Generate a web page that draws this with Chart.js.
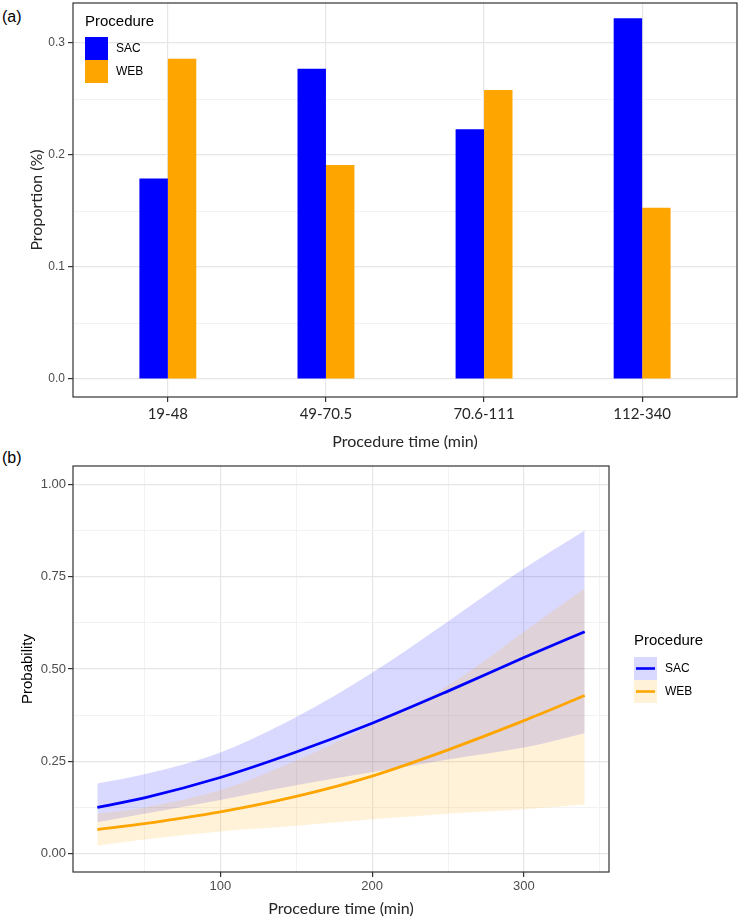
<!DOCTYPE html>
<html>
<head>
<meta charset="utf-8">
<script src="https://cdn.jsdelivr.net/npm/chart.js@4.4.1/dist/chart.umd.min.js"></script>
<style>
  body { margin: 0; background: #fff; width: 750px; height: 922px; position: relative; overflow: hidden; }
  canvas { position: absolute; left: 0; }
  #chartA { top: 0; }
  #chartB { top: 451px; }
  .tag { position: absolute; left: 2px; font: 16px "Liberation Sans", Arial, sans-serif; color: #000; }
</style>
</head>
<body>
<div class="tag" style="top:8px">(a)</div>
<div class="tag" style="top:449px">(b)</div>
<canvas id="chartA" width="750" height="451"></canvas>
<canvas id="chartB" width="750" height="471"></canvas>
<script>
// ---- panel (a): proportion by procedure-time group
const timeGroups = ["19-48", "49-70.5", "70.6-111", "112-340"];
const sacProportion = [0.179, 0.277, 0.223, 0.322];
const webProportion = [0.286, 0.191, 0.258, 0.153];
const propTicks = [0, 0.1, 0.2, 0.3];

// ---- panel (b): predicted probability with 95% band
const procTime = [19, 50, 100, 150, 200, 250, 300, 340];
const sacFit  = [0.125, 0.151, 0.206, 0.275, 0.353, 0.440, 0.531, 0.601];
const sacLow  = [0.085, 0.108, 0.145, 0.185, 0.220, 0.255, 0.287, 0.326];
const sacHigh = [0.190, 0.215, 0.274, 0.370, 0.490, 0.629, 0.772, 0.875];
const webFit  = [0.065, 0.081, 0.113, 0.155, 0.210, 0.281, 0.360, 0.428];
const webLow  = [0.021, 0.038, 0.060, 0.075, 0.093, 0.108, 0.120, 0.133];
const webHigh = [0.108, 0.125, 0.172, 0.252, 0.348, 0.455, 0.601, 0.719];
const timeTicks = [100, 200, 300];
const probTicks = [0, 0.25, 0.5, 0.75, 1];

const procedures = ["SAC", "WEB"];
const procColors = ["#0000FF", "#FFA500"];
const bandColors = ["rgba(0,0,255,0.15)", "rgba(255,165,0,0.15)"];

Chart.defaults.font.family = "'Liberation Sans', Arial, sans-serif";
Chart.defaults.color = "#4d4d4d";

const GRID_MAJOR = "#e6e6e6";
const GRID_MINOR = "#f2f2f2";
const INK = "#262626";

function isIn(list, v) {
    return list.some((t) => Math.abs(t - v) < 1e-9);
}

function withMinors(list, step, lo, hi) {
    let out = [];
    list.forEach((t) => out.push(t));
    for (let v = list[0] - step / 2; v <= hi; v += step) {
        if (v >= lo) out.push(v);
    }
    return out.sort((a, b) => a - b).map((v) => ({ value: v }));
}

function gridFor(list) {
    return {
        offset: false,
        drawTicks: true,
        tickLength: 5,
        color: (c) => (isIn(list, c.tick.value) ? GRID_MAJOR : GRID_MINOR),
        lineWidth: (c) => (isIn(list, c.tick.value) ? 1.2 : 1),
        tickColor: (c) => (isIn(list, c.tick.value) ? "#333" : "rgba(0,0,0,0)"),
        tickWidth: 1.2,
    };
}

// panel border, like theme_bw
const panelBox = {
    id: "panelBox",
    afterDraw(chart) {
        const a = chart.chartArea;
        const ctx = chart.ctx;
        ctx.save();
        ctx.strokeStyle = "#333";
        ctx.lineWidth = 1.2;
        ctx.strokeRect(a.left, a.top, a.right - a.left, a.bottom - a.top);
        ctx.restore();
    }
};

// ggplot style legend: title + stacked square keys
const ggLegend = {
    id: "ggLegend",
    afterDraw(chart, args, opts) {
        if (!opts.items) return;
        const ctx = chart.ctx;
        const k = opts.key;
        ctx.save();
        ctx.textBaseline = "middle";
        ctx.textAlign = "left";
        ctx.fillStyle = "#000";
        ctx.font = "15px 'Liberation Sans', Arial, sans-serif";
        ctx.fillText(opts.title, opts.x, opts.titleY);
        opts.items.forEach((it, i) => {
            const top = opts.top + i * k;
            ctx.fillStyle = "#fff";
            ctx.fillRect(opts.x, top, k, k);
            ctx.fillStyle = it.fill;
            ctx.fillRect(opts.x, top, k, k);
            if (it.line) {
                ctx.strokeStyle = it.line;
                ctx.lineWidth = 2.6;
                ctx.beginPath();
                ctx.moveTo(opts.x + 2, top + k / 2);
                ctx.lineTo(opts.x + k - 2, top + k / 2);
                ctx.stroke();
            }
            ctx.fillStyle = "#000";
            ctx.font = "12px 'Liberation Sans', Arial, sans-serif";
            ctx.fillText(it.text, opts.x + k + 8, top + k / 2);
        });
        ctx.restore();
    }
};

// ---------- chart (a)
new Chart(document.getElementById("chartA"), {
    type: "bar",
    data: {
        datasets: [sacProportion, webProportion].map((vals, k) => ({
            label: procedures[k],
            data: vals.map((v, i) => ({ x: i + 1, y: v })),
            backgroundColor: procColors[k],
            borderWidth: 0,
            categoryPercentage: 0.36,
            barPercentage: 1,
        })),
    },
    options: {
        responsive: false,
        animation: false,
        events: [],
        layout: { padding: { left: 0, right: 13, top: 3, bottom: 0 } },
        plugins: {
            legend: { display: false },
            tooltip: { enabled: false },
            ggLegend: {
                title: "Procedure",
                x: 85,
                titleY: 22,
                top: 37,
                key: 23,
                items: procedures.map((p, k) => ({ text: p, fill: procColors[k] })),
            },
        },
        scales: {
            x: {
                type: "linear",
                min: 0.4,
                max: 4.6,
                offset: false,
                afterBuildTicks: (s) => {
                    s.ticks = timeGroups.map((g, i) => ({ value: i + 1 }));
                },
                afterFit: (s) => {
                    s.height = 54;
                    s.paddingLeft = 0;
                    s.paddingRight = 0;
                },
                grid: gridFor([1, 2, 3, 4]),
                border: { display: false },
                ticks: {
                    autoSkip: false,
                    maxRotation: 0,
                    padding: 3,
                    color: INK,
                    font: { family: "Lato", size: 15 },
                    callback: (v) => timeGroups[v - 1],
                },
                title: {
                    display: true,
                    text: "Procedure time (min)",
                    color: INK,
                    font: { family: "Lato", size: 16 },
                    padding: { top: 0, bottom: 0 },
                },
            },
            y: {
                type: "linear",
                min: -0.016,
                max: 0.3357,
                afterBuildTicks: (s) => {
                    s.ticks = withMinors(propTicks, 0.1, -0.016, 0.3357);
                },
                afterFit: (s) => {
                    s.width = 73;
                    s.paddingTop = 0;
                    s.paddingBottom = 0;
                },
                grid: gridFor(propTicks),
                border: { display: false },
                ticks: {
                    autoSkip: false,
                    padding: 3,
                    color: "#4d4d4d",
                    font: { size: 12 },
                    callback: (v) => (isIn(propTicks, v) ? v.toFixed(1) : ""),
                },
                title: {
                    display: true,
                    text: "Proportion (%)",
                    color: INK,
                    font: { family: "Lato", size: 16 },
                    padding: { top: 27, bottom: 0 },
                },
            },
        },
    },
    plugins: [panelBox, ggLegend],
});

// ---------- chart (b)
function series(xs, ys) {
    return xs.map((x, i) => ({ x: x, y: ys[i] }));
}

function band(ys, color, fill, order) {
    return {
        data: series(procTime, ys),
        borderColor: "rgba(0,0,0,0)",
        borderWidth: 0,
        backgroundColor: color,
        pointRadius: 0,
        fill: fill,
        cubicInterpolationMode: "monotone",
        order: order,
    };
}

function fitLine(ys, color, order) {
    return {
        data: series(procTime, ys),
        borderColor: color,
        borderWidth: 2.8,
        pointRadius: 0,
        fill: false,
        cubicInterpolationMode: "monotone",
        order: order,
    };
}

new Chart(document.getElementById("chartB"), {
    type: "line",
    data: {
        datasets: [
            band(sacHigh, bandColors[0], "+1", 4),
            band(sacLow, bandColors[0], false, 4),
            band(webHigh, bandColors[1], "+1", 3),
            band(webLow, bandColors[1], false, 3),
            fitLine(sacFit, procColors[0], 1),
            fitLine(webFit, procColors[1], 0),
        ],
    },
    options: {
        responsive: false,
        animation: false,
        events: [],
        layout: { padding: { left: 0, right: 141, top: 15, bottom: 0 } },
        plugins: {
            legend: { display: false },
            tooltip: { enabled: false },
            ggLegend: {
                title: "Procedure",
                x: 634,
                titleY: 190,
                top: 206,
                key: 23,
                items: procedures.map((p, k) => ({ text: p, fill: bandColors[k], line: procColors[k] })),
            },
        },
        scales: {
            x: {
                type: "linear",
                min: 3,
                max: 356,
                afterBuildTicks: (s) => {
                    s.ticks = withMinors(timeTicks, 100, 3, 356);
                },
                afterFit: (s) => {
                    s.height = 50;
                    s.paddingLeft = 0;
                    s.paddingRight = 0;
                },
                grid: gridFor(timeTicks),
                border: { display: false },
                ticks: {
                    autoSkip: false,
                    maxRotation: 0,
                    padding: 2,
                    color: "#4d4d4d",
                    font: { size: 13 },
                    callback: (v) => (isIn(timeTicks, v) ? String(v) : ""),
                },
                title: {
                    display: true,
                    text: "Procedure time (min)",
                    color: INK,
                    font: { family: "Lato", size: 16 },
                    padding: { top: 0, bottom: 4 },
                },
            },
            y: {
                type: "linear",
                min: -0.05,
                max: 1.05,
                afterBuildTicks: (s) => {
                    s.ticks = withMinors(probTicks, 0.25, -0.05, 1.05);
                },
                afterFit: (s) => {
                    s.width = 73;
                    s.paddingTop = 0;
                    s.paddingBottom = 0;
                },
                grid: gridFor(probTicks),
                border: { display: false },
                ticks: {
                    autoSkip: false,
                    padding: 2,
                    color: "#4d4d4d",
                    font: { size: 13 },
                    callback: (v) => (isIn(probTicks, v) ? v.toFixed(2) : ""),
                },
                title: {
                    display: true,
                    text: "Probability",
                    color: "#000",
                    font: { size: 15 },
                    padding: { top: 19, bottom: 0 },
                },
            },
        },
    },
    plugins: [panelBox, ggLegend],
});
</script>
</body>
</html>
